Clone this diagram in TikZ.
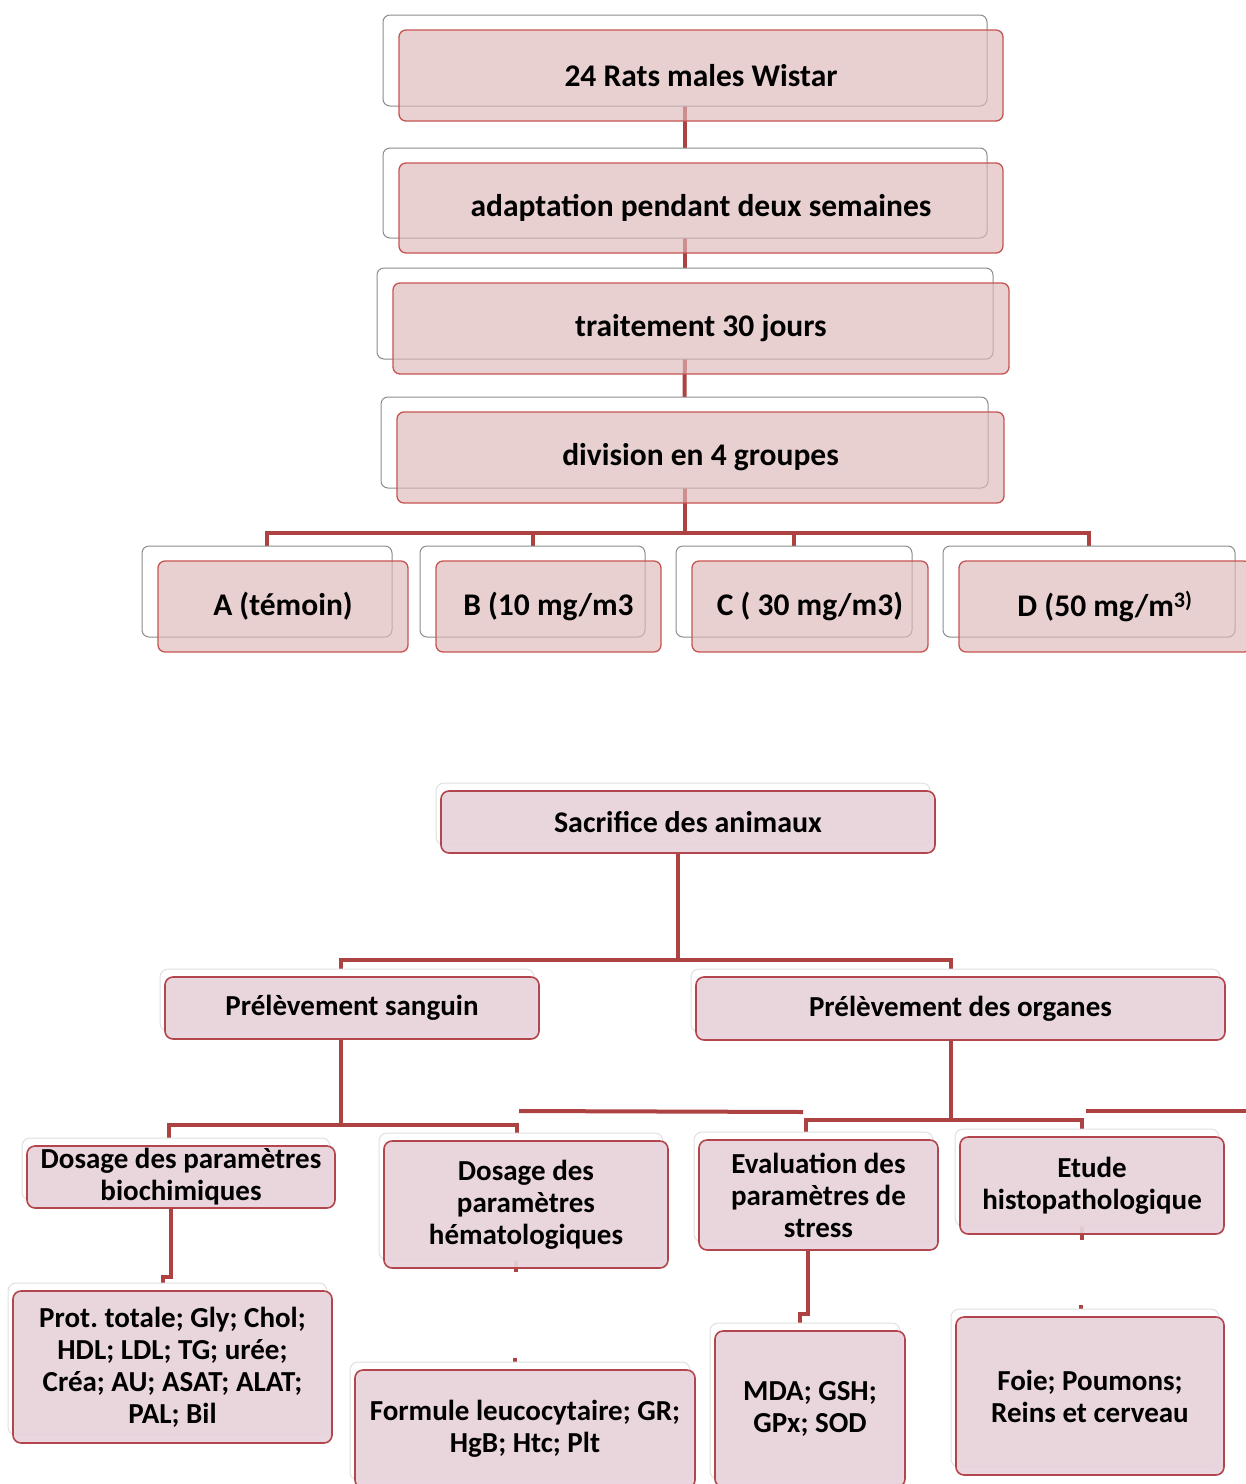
\documentclass[tikz,border=0pt]{standalone}
\usepackage{fontspec}
\setmainfont{Carlito}
\frenchspacing
\usetikzlibrary{shadows, backgrounds}

\definecolor{linkred}{RGB}{172,66,66}
\definecolor{edgered}{RGB}{198,84,82}
\definecolor{darkedge}{RGB}{178,70,76}
\definecolor{rosefill}{RGB}{222,184,184}
\definecolor{mauvefill}{RGB}{232,211,219}

\begin{document}
\begin{tikzpicture}[x=1pt, y=-1pt, inner sep=0pt, align=center,
    stage/.style={rounded corners=7pt, draw=edgered, line width=1.3pt, fill=rosefill, fill opacity=0.65, text opacity=1,
        font=\bfseries\fontsize{31.5}{37}\selectfont, minimum height=91pt,
        copy shadow={shadow xshift=-16pt, shadow yshift=15pt, fill=white, fill opacity=1, draw=black!45, line width=1pt}},
    task/.style={rounded corners=8pt, draw=darkedge, line width=1.6pt, fill=mauvefill, fill opacity=0.93, text opacity=1,
        font=\bfseries\fontsize{29}{32}\selectfont,
        copy shadow={shadow xshift=-5pt, shadow yshift=8pt, fill=white, fill opacity=1, draw=black!12, line width=1pt}},
    link/.style={draw=linkred, line width=4pt}]

\useasboundingbox (0,0) rectangle (1246,1484);

\node[stage, minimum width=604pt] (rats) at (701,75.5) {24 Rats males Wistar};
\node[stage, minimum width=604pt, minimum height=90pt] (adapt) at (701,208) {adaptation pendant deux semaines};
\node[stage, minimum width=616pt] (trait) at (701,328.5) {traitement 30 jours};
\node[stage, minimum width=607pt] (divis) at (700.5,457.5) {division en 4 groupes};

\node[stage, minimum width=250pt] (grA) at (283,606.5) {A (témoin)};
\node[stage, minimum width=225pt] (grB) at (548.5,606.5) {B (10 mg/m3};
\node[stage, minimum width=236pt] (grC) at (810,606.5) {C ( 30 mg/m3)};
\node[stage, minimum width=292pt] (grD) at (1105,606.5) {D (50 mg/m\textsuperscript{3)}};

\node[task, minimum width=494pt, minimum height=62pt, font=\bfseries\fontsize{30}{32}\selectfont] (sac) at (688,822) {Sacrifice des animaux};
\node[task, minimum width=374pt, minimum height=62pt] (sang) at (352,1008) {Prélèvement sanguin};
\node[task, minimum width=529pt, minimum height=63pt] (org) at (960.5,1008.5) {Prélèvement des organes};

\node[task, minimum width=308pt, minimum height=62pt] (bio) at (181,1177) {Dosage des paramètres\\biochimiques};
\node[task, minimum width=284pt, minimum height=127pt] (hem) at (526,1204.5) {Dosage des\\paramètres\\hématologiques};
\node[task, minimum width=239pt, minimum height=110pt] (str) at (818.5,1195) {Evaluation des\\paramètres de\\stress};
\node[task, minimum width=264pt, minimum height=97pt] (his) at (1092,1185.5) {Etude\\histopathologique};

\node[task, minimum width=319pt, minimum height=152pt] (prot) at (172.5,1367) {Prot. totale; Gly; Chol;\\HDL; LDL; TG; urée;\\Créa; AU; ASAT; ALAT;\\PAL; Bil};
\node[task, minimum width=340pt, minimum height=118pt] (form) at (525,1429) {Formule leucocytaire; GR;\\HgB; Htc; Plt};
\node[task, minimum width=190pt, minimum height=156pt] (mda) at (810,1409) {MDA; GSH;\\GPx; SOD};
\node[task, minimum width=268pt, minimum height=158pt] (foie) at (1090,1396) {Foie; Poumons;\\Reins et cerveau};

\begin{scope}[on background layer]
\draw[link] ([xshift=-16pt]rats.center) -- ([xshift=-16pt]adapt.north);
\draw[link] ([xshift=-16pt]adapt.center) -- ([xshift=-16pt]trait.north);
\draw[link] ([xshift=-16pt]trait.center) -- ([xshift=-16pt]divis.north);
\coordinate (fork) at (684.5,533);
\draw[link] ([xshift=-16pt]divis.center) -- (fork);
\foreach \g in {grA,grB,grC,grD}
    \draw[link] (fork) -| ([xshift=-16pt]\g.north);

\coordinate (forkS) at (678,960);
\draw[link] ([xshift=-10pt]sac.south) -- (forkS);
\draw[link] (forkS) -| ([xshift=-11pt]sang.north);
\draw[link] (forkS) -| ([xshift=-10pt]org.north);

\coordinate (forkB) at (341,1125);
\draw[link] ([xshift=-11pt]sang.south) -- (forkB);
\draw[link] (forkB) -| ([xshift=-12pt]bio.north);
\draw[link] (forkB) -| ([xshift=-9pt]hem.north);

\coordinate (forkO) at (950.5,1120);
\draw[link] ([xshift=-10pt]org.south) -- (forkO);
\draw[link] (forkO) -| ([xshift=-12.5pt]str.north);
\draw[link] (forkO) -| ([xshift=-10pt]his.north);

\coordinate (strayA) at (519,1111);
\coordinate (strayB) at (803,1112);
\coordinate (strayC) at (1086,1111);
\coordinate (strayD) at (1250,1111);
\draw[link] (strayA) -- (strayB);
\draw[link] (strayC) -- (strayD);

\draw[link] ([xshift=-10pt]bio.south) -- ++(0,68) -| ([xshift=-9.5pt]prot.north);
\draw[link] ([xshift=-10.5pt]str.south) -- ++(0,63) -| ([xshift=-10pt]mda.north);

\draw[link] ([xshift=-10pt, yshift=10pt]hem.south) -- ([xshift=-10pt, yshift=-3pt]hem.south);
\draw[link] ([xshift=-10pt, yshift=10pt]his.south) -- ([xshift=-10pt, yshift=-5pt]his.south);
\draw[link] ([xshift=-10pt]form.north) -- ++(0,-11);
\draw[link] ([xshift=-9pt]foie.north) -- ++(0,-11);
\end{scope}

\end{tikzpicture}
\end{document}
